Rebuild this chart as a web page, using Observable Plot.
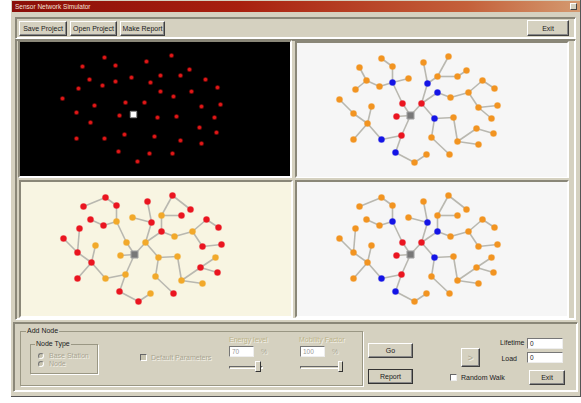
<!DOCTYPE html>
<html><head><meta charset="utf-8">
<script src="https://cdn.jsdelivr.net/npm/d3@7"></script>
<script src="https://cdn.jsdelivr.net/npm/@observablehq/plot@0.6"></script>
<style>
body{margin:0;width:581px;height:403px;background:#fff;position:relative;overflow:hidden;font-family:"Liberation Sans",Arial,sans-serif;font-size:7px;color:#202020}
.abs{position:absolute;box-sizing:border-box}
.win{left:11px;top:0;width:570px;height:397px;background:#d5d1c0;border-right:1px solid #555;border-bottom:1px solid #555}
.title{left:12px;top:1px;width:568px;height:11px;background:linear-gradient(to right,#8a0e08,#a8200f 40%,#c4603a 80%,#d49a70);color:#f4e0d8;font-size:6.5px;line-height:11px;padding-left:3px}
.close{right:3px;top:2px;width:7px;height:7px;background:#d5d1c0;border:1px solid;border-color:#fff #444 #444 #fff}
.btn{background:#d5d1c0;border:1px solid;border-color:#fff #404040 #404040 #fff;box-shadow:inset -1px -1px #888;text-align:center;font-size:7px;display:flex;align-items:center;justify-content:center}
.groove{border:1px solid;border-color:#8a8778 #fff #fff #8a8778;box-shadow:1px 1px 0 #8a8778 inset, -1px -1px 0 #fff inset}
.sunk{border:2px solid;border-color:#8a8778 #fff #fff #8a8778}
.grp{border:1px solid #9a9784;box-shadow:1px 1px 0 #fff}
.lbl{background:#d5d1c0;padding:0 1px;line-height:8px}
.dis{color:#a9a592;text-shadow:1px 1px 0 #f4f2e8}
.disY{color:#bdb48c;text-shadow:1px 1px 0 #f4f2e8}
.tb{background:#fff;border:1px solid;border-color:#777 #eee #eee #777;font-size:6.5px;padding-left:2px;line-height:9px}
.panel svg{display:block}
</style></head><body>
<div class="abs win"></div>
<div class="abs title">Sensor Network Simulator<div class="abs close"></div></div>
<div class="abs groove" style="left:15px;top:17px;width:561px;height:22px"></div>
<div class="abs btn" style="left:19px;top:21px;width:48px;height:15px">Save Project</div>
<div class="abs btn" style="left:70px;top:21px;width:47px;height:15px">Open Project</div>
<div class="abs btn" style="left:120px;top:21px;width:45px;height:15px">Make Report</div>
<div class="abs btn" style="left:527px;top:20px;width:42px;height:16px">Exit</div>
<div class="abs groove" style="left:15px;top:39px;width:561px;height:281px"></div>
<div class="abs sunk panel" id="p1" style="left:18px;top:40px;width:274px;height:138px"></div>
<div class="abs sunk panel" id="p2" style="left:295px;top:41px;width:274px;height:137px"></div>
<div class="abs sunk panel" id="p3" style="left:19px;top:180px;width:274px;height:138px"></div>
<div class="abs sunk panel" id="p4" style="left:295px;top:180px;width:274px;height:138px"></div>
<div class="abs groove" style="left:13px;top:322px;width:565px;height:70px"></div>
<div class="abs grp" style="left:20px;top:331px;width:343px;height:55px"></div>
<div class="abs lbl" style="left:26px;top:327px">Add Node</div>
<div class="abs grp" style="left:30px;top:344px;width:68px;height:30px"></div>
<div class="abs lbl" style="left:35px;top:340px">Node Type</div>
<div class="abs" style="left:38px;top:353px;width:6px;height:6px;border-radius:50%;background:#c8c4b0;border:1px solid;border-color:#777 #fff #fff #777"></div>
<div class="abs dis" style="left:49px;top:352px">Base Station</div>
<div class="abs" style="left:38px;top:361px;width:6px;height:6px;border-radius:50%;background:#c8c4b0;border:1px solid;border-color:#777 #fff #fff #777"></div>
<div class="abs dis" style="left:49px;top:360px">Node</div>
<div class="abs" style="left:140px;top:354px;width:7px;height:7px;background:#c8c4b0;border:1px solid;border-color:#666 #fff #fff #666"></div>
<div class="abs dis" style="left:151px;top:354px">Default Parameters</div>
<div class="abs disY" style="left:229px;top:336px">Energy level</div>
<div class="abs tb" style="left:229px;top:346px;width:25px;height:11px;color:#999">70</div>
<div class="abs dis" style="left:261px;top:348px">%</div>
<div class="abs" style="left:229px;top:366px;width:34px;height:3px;border:1px solid;border-color:#666 #fff #fff #666"></div>
<div class="abs" style="left:255px;top:361px;width:6px;height:11px;background:#d5d1c0;border:1px solid;border-color:#fff #333 #333 #fff"></div>
<div class="abs disY" style="left:299px;top:336px">Mobility Factor</div>
<div class="abs tb" style="left:300px;top:346px;width:25px;height:11px;color:#999">100</div>
<div class="abs dis" style="left:332px;top:348px">%</div>
<div class="abs" style="left:300px;top:366px;width:42px;height:3px;border:1px solid;border-color:#666 #fff #fff #666"></div>
<div class="abs" style="left:338px;top:361px;width:5px;height:11px;background:#d5d1c0;border:1px solid;border-color:#fff #333 #333 #fff"></div>
<div class="abs btn" style="left:368px;top:343px;width:45px;height:15px">Go</div>
<div class="abs btn" style="left:368px;top:369px;width:45px;height:15px;outline:1px solid #333;outline-offset:-1px">Report</div>
<div class="abs btn dis" style="left:461px;top:348px;width:19px;height:19px;font-size:9px">&gt;</div>
<div class="abs" style="left:500px;top:339px;width:21px;text-align:right">Lifetime</div>
<div class="abs tb" style="left:527px;top:338px;width:36px;height:11px">0</div>
<div class="abs" style="left:500px;top:355px;width:17px;text-align:right">Load</div>
<div class="abs tb" style="left:527px;top:352px;width:36px;height:11px">0</div>
<div class="abs" style="left:450px;top:374px;width:7px;height:7px;background:#fff;border:1px solid;border-color:#666 #eee #eee #666"></div>
<div class="abs" style="left:461px;top:374px">Random Walk</div>
<div class="abs btn" style="left:529px;top:370px;width:36px;height:15px">Exit</div>
<script>
// node names (sensor nodes) and positions in panel pixel coordinates
const names = ["a","b","c","d","e","f","g","h","i","j","k","l","m","n","o","p","q","r","s","t",
  "R1","R2","R3","R4","R5","R6","R7","R8","R9","R10","R11","R12","R13","R14","R15","R16","R17","R18","R19","R20","R21","R22","R23"];
const nodeX = [84,95,62,69,58,82,95,111,42,105,124,56,74,99,70,56,84,104,98,117,126,151,140,160,169,130,140,153,171,185,197,181,200,194,137,156,179,196,160,181,134,129,152];
const nodeY = [15,23,24,37,46,43,39,35,56,60,60,70,63,73,80,96,96,92,109,119,19,13,33,33,27,40,49,54,49,37,45,64,62,75,75,74,85,90,98,101,94,111,111];
const baseX = 113, baseY = 72;
// routing tree shown top-right
const edgesTop = ["S-j","S-k","S-n","S-r","j-g","g-b","b-a","g-h","g-f","f-d","d-c","d-e",
  "k-R6","R6-R1","R6-R3","R3-R2","R3-R4","R4-R5","k-R7","R7-R8","R8-R9","R9-R10","R10-R11","R9-R12","R12-R13","R12-R14",
  "k-R15","R15-R16","R16-R19","R19-R17","R17-R18","R19-R20","R15-R21","R21-R23",
  "r-q","q-o","o-l","l-i","o-m","o-p","r-s","s-t","t-R22"];
// routing tree shown in the bottom panels
const edgesBottom = ["S-j","S-k","S-n","S-r","j-g","g-b","b-a","a-c","g-f","f-d",
  "h-R6","R1-R6","R6-k","k-R7","R7-R3","R3-R2","R3-R4","R2-R5","R7-R8","R8-R9","R9-R10","R10-R11","R9-R12","R12-R13",
  "k-R15","R15-R16","R16-R19","R19-R17","R17-R14","R17-R18","R19-R20","R15-R21","R21-R23",
  "r-q","q-o","o-l","l-e","l-i","o-m","o-p","r-s","s-t","t-R22"];
// node state per panel: O orange, B blue, R red, Y amber
const kindRight = ["O","O","O","O","O","O","B","O","O","R","R","O","O","R","O","O","B","R","B","O",
  "O","O","O","O","O","B","B","O","O","O","O","O","O","O","B","O","O","O","O","O","O","O","O"];
const kindBottomLeft = ["R","R","R","R","R","R","Y","Y","R","Y","Y","R","Y","Y","R","R","Y","Y","R","R",
  "R","R","Y","R","R","R","R","Y","Y","R","R","R","R","Y","Y","Y","R","R","Y","Y","Y","Y","R"];

const kindColor = {O:"#f29421", B:"#1414e6", R:"#ea1520", Y:"#f2a92a"};
const W = 270, H = 134;
const pos = {S:[baseX, baseY]};
names.forEach((n,i)=>pos[n]=[nodeX[i], nodeY[i]]);
const nodes = names.map((n,i)=>({name:n, x:nodeX[i], y:nodeY[i], right:kindRight[i], bl:kindBottomLeft[i]}));
const links = es => es.map(e=>{const [u,v]=e.split("-"); return {x1:pos[u][0],y1:pos[u][1],x2:pos[v][0],y2:pos[v][1]};});

function frame(bg, marks){
  return Plot.plot({width:W, height:H, margin:0,
    x:{domain:[0,W], range:[0,W], axis:null},
    y:{domain:[0,H], range:[0,H], axis:null},
    style:{background:bg, overflow:"hidden"},
    marks});
}
function network(bg, edges, colorKey){
  return frame(bg, [
    Plot.link(links(edges), {x1:"x1",y1:"y1",x2:"x2",y2:"y2", stroke:"#b9b8b0", strokeWidth:1.6}),
    Plot.dot(nodes, {x:"x", y:"y", r:3, fill:d=>kindColor[d[colorKey]], stroke:d=>kindColor[d[colorKey]], strokeOpacity:0.35, strokeWidth:1.2}),
    Plot.dot([{x:baseX,y:baseY}], {x:"x", y:"y", symbol:"square", r:4, fill:"#787878", stroke:"#a8a8a8", strokeWidth:1})
  ]);
}
document.getElementById("p1").appendChild(frame("#000", [
  Plot.dot(nodes, {x:"x", y:"y", r:2.6, fill:"#5a0606"}),
  Plot.dot(nodes, {x:"x", y:"y", r:1.7, fill:"#e01818"}),
  Plot.dot([{x:baseX,y:baseY}], {x:"x", y:"y", symbol:"square", r:3.6, fill:"#fff", stroke:"#888", strokeWidth:1})
]));
document.getElementById("p2").appendChild(network("#f6f6f6", edgesTop, "right"));
document.getElementById("p3").appendChild(network("#f8f5e2", edgesBottom, "bl"));
document.getElementById("p4").appendChild(network("#f6f6f6", edgesBottom, "right"));
</script>
</body></html>
